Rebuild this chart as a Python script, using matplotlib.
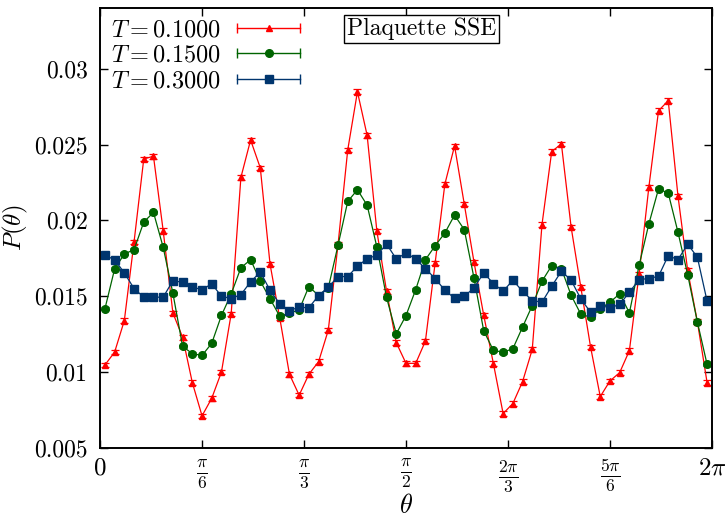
import numpy as np
import matplotlib
matplotlib.use("Agg")
import matplotlib.pyplot as plt
from matplotlib.lines import Line2D
from matplotlib.legend_handler import HandlerBase

# ------------------------------------------------------------
# dados (63 bins em theta)
# ------------------------------------------------------------

p_t010 = [0.01047, 0.01132, 0.0134, 0.01858, 0.02405, 0.02423, 0.01932, 0.0139, 0.0123,
          0.00931, 0.00712, 0.00828, 0.01001, 0.01384, 0.02283, 0.0253, 0.02346, 0.01713,
          0.01358, 0.00986, 0.00848, 0.00986, 0.01069, 0.01277, 0.0184, 0.02464, 0.02848,
          0.0256, 0.0193, 0.01533, 0.01194, 0.01058, 0.01058, 0.01205, 0.0172, 0.02239,
          0.02491, 0.02107, 0.01726, 0.01376, 0.01056, 0.00727, 0.00793, 0.00937, 0.0115,
          0.01972, 0.02454, 0.02504, 0.01956, 0.0156, 0.01167, 0.00839, 0.00942, 0.00997,
          0.01142, 0.01647, 0.02217, 0.02723, 0.02789, 0.02162, 0.01671, 0.01332, 0.00931]

p_t015 = [0.01417, 0.0168, 0.01779, 0.01807, 0.01989, 0.02053, 0.01823, 0.0152, 0.0117,
          0.01122, 0.0111, 0.0119, 0.01374, 0.01515, 0.01688, 0.01741, 0.0160, 0.01484,
          0.01368, 0.01389, 0.0141, 0.01564, 0.01505, 0.01555, 0.01836, 0.02125, 0.02202,
          0.021, 0.01825, 0.01492, 0.01253, 0.01373, 0.01544, 0.01741, 0.01833, 0.01917,
          0.02035, 0.01939, 0.01621, 0.01273, 0.01143, 0.01132, 0.01154, 0.01297, 0.01439,
          0.01599, 0.01702, 0.01682, 0.01507, 0.01382, 0.01362, 0.01417, 0.01461, 0.01516,
          0.01391, 0.01704, 0.01976, 0.02208, 0.0218, 0.01923, 0.01643, 0.0133, 0.01051]

p_t030 = [0.0177, 0.01741, 0.01654, 0.01551, 0.01494, 0.01494, 0.01494, 0.01603, 0.01592,
          0.0156, 0.01544, 0.01582, 0.015, 0.01485, 0.01511, 0.01595, 0.0166, 0.0154,
          0.0145, 0.01406, 0.01428, 0.01424, 0.01505, 0.0156, 0.0163, 0.0163, 0.01698,
          0.01748, 0.0177, 0.01844, 0.01746, 0.01785, 0.01746, 0.01682, 0.01617, 0.0154,
          0.01487, 0.015, 0.01555, 0.01654, 0.01584, 0.01533, 0.01606, 0.01533, 0.01472,
          0.01461, 0.01566, 0.01665, 0.01606, 0.01483, 0.01395, 0.01439, 0.01424, 0.01446,
          0.01527, 0.0161, 0.01617, 0.01632, 0.01768, 0.01741, 0.01844, 0.01757, 0.01468]

err_t010 = 0.00015
err_t015 = 0.0001
err_t030 = 0.00008

labels = [r"$T = 0.1000$", r"$T = 0.1500$", r"$T = 0.3000$"]
xtick_labels = ["0", r"$\frac{\pi}{6}$", r"$\frac{\pi}{3}$", r"$\frac{\pi}{2}$",
                r"$\frac{2\pi}{3}$", r"$\frac{5\pi}{6}$", r"$2\pi$"]
ytick_vals = [0.005, 0.01, 0.015, 0.02, 0.025, 0.03]

n = len(p_t010)
theta = (np.arange(n) + 0.5) * np.pi / n

# ------------------------------------------------------------
# estilo
# ------------------------------------------------------------

plt.rcParams["font.family"] = "serif"
plt.rcParams["font.serif"] = ["cmr10"]
plt.rcParams["mathtext.fontset"] = "cm"
plt.rcParams["axes.formatter.use_mathtext"] = True
plt.rcParams["font.size"] = 17


class CapHandler(HandlerBase):
    # linha horizontal com "caps" nas pontas, estilo gnuplot
    def create_artists(self, legend, orig, xd, yd, width, height, fontsize, trans):
        y = height / 2 - yd
        x0, x1 = -xd, width - xd
        c = orig.get_color()
        line = Line2D([x0, x1], [y, y], color=c, lw=1.0)
        caps = Line2D([x0, x1], [y, y], ls="none", marker="|", markersize=7,
                      markeredgewidth=1.0, color=c)
        mk = Line2D([(x0 + x1) / 2], [y], ls="none", marker=orig.get_marker(),
                    markersize=orig.get_markersize(), color=c)
        for a in (line, caps, mk):
            a.set_transform(trans)
        return [line, caps, mk]


fig = plt.figure(figsize=(7.25, 5.23), dpi=100)
ax = fig.add_axes([0.138, 0.1434, 0.844, 0.8413])

series = [
    (p_t010, err_t010, "#ff0000", "^", 5),
    (p_t015, err_t015, "#006400", "o", 5.5),
    (p_t030, err_t030, "#00356e", "s", 5.5),
]

handles = []
for (vals, err, col, mk, ms), lab in zip(series, labels):
    ax.errorbar(theta, vals, yerr=err, color=col, marker=mk, markersize=ms,
                lw=0.9, elinewidth=0.9, capsize=3, capthick=0.9)
    handles.append(Line2D([], [], color=col, marker=mk, markersize=ms))

ax.set_xlim(0, np.pi)
ax.set_ylim(0.005, 0.034)
ax.set_xticks([k * np.pi / 6 for k in range(7)])
ax.set_xticklabels(xtick_labels, fontsize=18)
ax.set_yticks(ytick_vals)
ax.set_yticklabels(["%g" % v for v in ytick_vals], fontsize=17)
ax.tick_params(direction="in", top=True, right=True, length=6, width=1.0)
ax.tick_params(axis="y", pad=9)
ax.tick_params(axis="x", pad=7)
for s in ax.spines.values():
    s.set_linewidth(1.4)

ax.set_xlabel(r"$\theta$", fontsize=19, labelpad=0)
ax.set_ylabel(r"$P(\theta)$", fontsize=18)
ax.yaxis.set_label_coords(-0.114, 0.5)

ax.legend(handles, labels, handler_map={Line2D: CapHandler()}, loc="upper left",
          fontsize=17.5, frameon=False, markerfirst=False, handlelength=2.6,
          handletextpad=0.65, labelspacing=0.15, borderaxespad=0.35, borderpad=0.1)

ax.text(0.525, 0.952, "Plaquette SSE", transform=ax.transAxes, ha="center", va="center",
        fontsize=17, bbox=dict(boxstyle="square,pad=0.12", fc="white", ec="black", lw=1.0))

fig.savefig("out.png", dpi=100)
